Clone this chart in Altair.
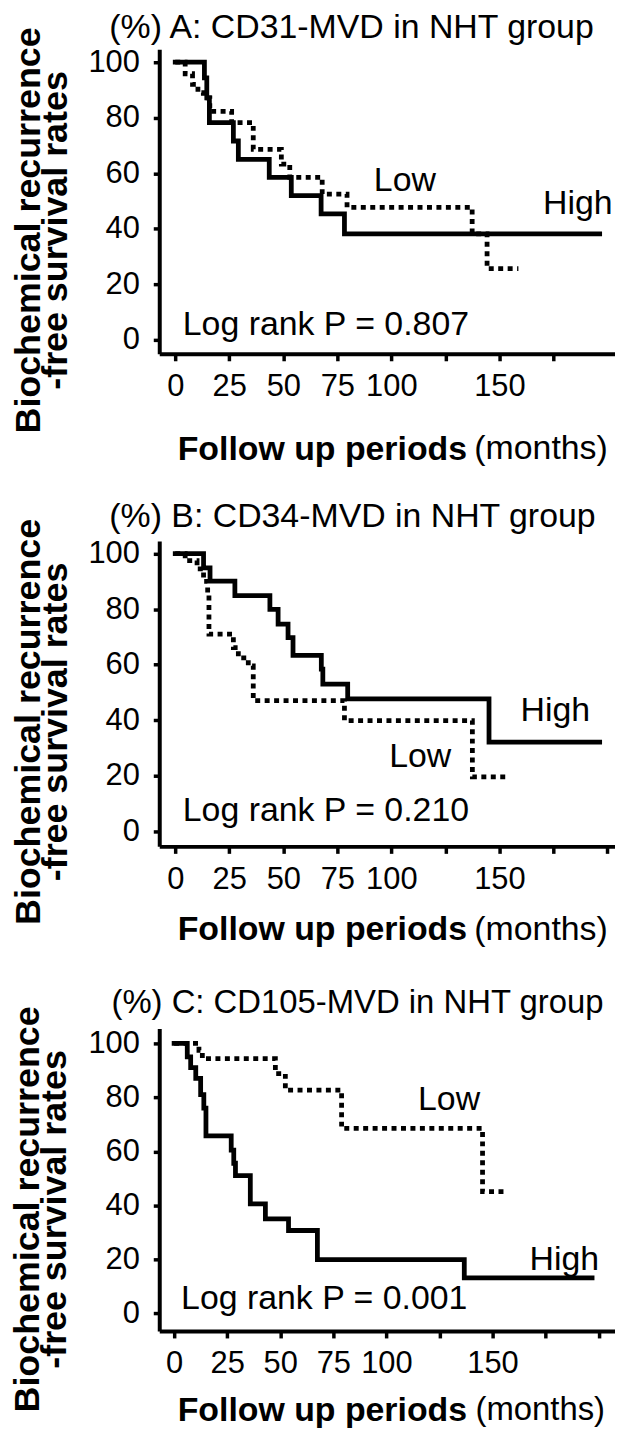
import altair as alt
import pandas as pd

FONT = "Liberation Sans"

# ---------------- data (months, % survival) ----------------
A_high_t = [0, 13.5, 14.6, 15.8, 26.9, 29.2, 43.5, 53.7, 67.5, 78.3, 196.4]
A_high_s = [100, 94.3, 87.1, 78.2, 71.6, 65.0, 58.5, 51.9, 45.4, 38.2, 38.2]
A_low_t = [0, 4.6, 8.0, 10.5, 13.0, 16.0, 26.1, 36.1, 49.1, 53.0, 68.0, 79.5, 137.4, 144.3, 158.8]
A_low_s = [100, 95.8, 92.0, 89.0, 87.1, 82.3, 78.2, 68.6, 63.3, 58.5, 52.5, 47.7, 38.2, 25.7, 25.7]

B_high_t = [0, 13.1, 16.1, 27.6, 43.8, 47.6, 52.2, 54.5, 67.6, 68.3, 79.8, 145.2, 196.4]
B_high_s = [100, 94.9, 90.1, 84.9, 79.9, 74.6, 69.8, 63.4, 58.4, 53.0, 47.7, 32.1, 32.1]
B_low_t = [0, 4.6, 10.1, 13.1, 15.0, 15.6, 26.9, 29.2, 33.8, 36.1, 78.3, 137.5, 154.4]
B_low_s = [100, 97.5, 94.5, 90.0, 86.0, 71.0, 66.2, 62.5, 59.6, 47.1, 39.9, 19.6, 19.6]

C_high_t = [0, 6.2, 7.8, 10.2, 12.5, 14.0, 15.0, 26.9, 28.1, 28.9, 35.9, 43.0, 53.9, 67.5, 136.7, 196.9]
C_high_s = [100, 95.0, 91.0, 87.0, 81.0, 76.0, 65.7, 60.5, 55.6, 51.0, 40.6, 35.0, 30.7, 19.9, 13.2, 13.2]
C_low_t = [0, 11.7, 13.3, 47.7, 52.4, 78.9, 145.3, 156.9]
C_low_s = [100, 97.4, 94.3, 88.8, 82.7, 68.5, 45.1, 45.1]

titles = ["(%) A: CD31-MVD in NHT group",
          "(%) B: CD34-MVD in NHT group",
          "(%) C: CD105-MVD in NHT group"]
pvals = ["Log rank P = 0.807", "Log rank P = 0.210", "Log rank P = 0.001"]
y_title = ["Biochemical recurrence", "-free survival rates"]
x_title_bold = "Follow up periods"
x_title_unit = "(months)"

# annotation texts and their anchor positions (months, %)
A_notes = [("Low", 91.9, 53.7), ("High", 170.2, 45.5), (pvals[0], 3.5, 1.8)]
B_notes = [("High", 159.8, 39.8), ("Low", 99.0, 23.3), (pvals[1], 3.5, 3.9)]
C_notes = [("Low", 114.9, 75.3), ("High", 167.4, 16.2), (pvals[2], 3.3, 1.5)]
A_head = [(titles[0], -30.5, 108.8), (x_title_unit, 138.4, -42.9)]
B_head = [(titles[1], -30.5, 109.7), (x_title_unit, 138.4, -39.1)]
C_head = [(titles[2], -29.5, 111.1), (x_title_unit, 142.0, -39.5)]
A_ytitle = [(y_title[0], -62.6, 39.4), (y_title[1], -50.0, 39.4)]
B_ytitle = [(y_title[0], -62.6, 39.4), (y_title[1], -50.0, 39.4)]
C_ytitle = [(y_title[0], -63.7, 38.5), (y_title[1], -50.9, 38.5)]

x_ticks_A = [0, 25, 50, 75, 100, 125, 150, 175]
x_ticks_BC = [0, 25, 50, 75, 100, 125, 150, 175, 200]
x_labeled = [0, 25, 50, 75, 100, 150]
y_ticks_AB = [0, 20, 40, 60, 80, 100]
y_ticks_C = [0, 10, 20, 30, 40, 50, 60, 70, 80, 90, 100]
y_labeled = [0, 20, 40, 60, 80, 100]

W = 458


def panel(ht, hs, lt, ls, notes, head, ytl, xdom, ydom, xticks, yticks, h,
          xtitle_y, head_size):
    xexpr = "indexof(%s, datum.value) >= 0 ? datum.label : ''" % str(x_labeled)
    yexpr = "indexof(%s, datum.value) >= 0 ? datum.label : ''" % str(y_labeled)
    xs = alt.Scale(domain=xdom, nice=False, zero=False)
    ys = alt.Scale(domain=ydom, nice=False, zero=False)
    xaxis = alt.Axis(values=xticks, labelExpr=xexpr, grid=False,
                     domainWidth=4, domainColor="black", tickColor="black",
                     tickWidth=3.5, tickSize=7, labelFontSize=31, labelFont=FONT,
                     labelColor="black", labelPadding=11, labelFlush=False,
                     labelOverlap=False,
                     title=x_title_bold, titleFont=FONT, titleFontSize=34,
                     titleFontWeight="bold", titleColor="black", titleAnchor="start",
                     titleAlign="left", titleBaseline="alphabetic", titleX=18,
                     titleY=xtitle_y)
    yaxis = alt.Axis(values=yticks, labelExpr=yexpr, grid=False, title=None,
                     domainWidth=4, domainColor="black", tickColor="black",
                     tickWidth=3.5, tickSize=6, labelFontSize=31, labelFont=FONT,
                     labelColor="black", labelPadding=14, labelFlush=False,
                     labelOverlap=False)
    hi = pd.DataFrame({"t": ht, "s": hs})
    lo = pd.DataFrame({"t": lt, "s": ls})
    nt = pd.DataFrame(notes, columns=["text", "t", "s"])
    hd = pd.DataFrame(head, columns=["text", "t", "s"])
    yt = pd.DataFrame(ytl, columns=["text", "t", "s"])
    X = alt.X("t:Q", scale=xs)
    Y = alt.Y("s:Q", scale=ys)
    base_hi = alt.Chart(hi).mark_line(interpolate="step-after", color="black",
                                      strokeWidth=4.8, strokeCap="square",
                                      strokeJoin="miter", clip=False).encode(
        x=alt.X("t:Q", scale=xs, axis=xaxis),
        y=alt.Y("s:Q", scale=ys, axis=yaxis))
    base_lo = alt.Chart(lo).mark_line(interpolate="step-after", color="black",
                                      strokeWidth=4.8, strokeDash=[5, 4.5],
                                      strokeCap="butt", clip=False).encode(x=X, y=Y)
    txt = alt.Chart(nt).mark_text(align="left", baseline="alphabetic", fontSize=34,
                                  font=FONT, color="black", clip=False).encode(
        x=X, y=Y, text="text:N")
    hdr = alt.Chart(hd).mark_text(align="left", baseline="alphabetic",
                                  fontSize=head_size,
                                  font=FONT, color="black", clip=False).encode(
        x=X, y=Y, text="text:N")
    ytx = alt.Chart(yt).mark_text(align="center", baseline="alphabetic", fontSize=36,
                                  fontWeight="bold", angle=270,
                                  font=FONT, color="black", clip=False).encode(
        x=X, y=Y, text="text:N")
    return alt.layer(base_lo, base_hi, txt, hdr, ytx).properties(width=W, height=h)


pA = panel(A_high_t, A_high_s, A_low_t, A_low_s, A_notes, A_head, A_ytitle,
           [-7.4, 203.5], [-5.0, 104.6], x_ticks_A, y_ticks_AB, 306, 106, 34)
pB = panel(B_high_t, B_high_s, B_low_t, B_low_s, B_notes, B_head, B_ytitle,
           [-7.4, 203.5], [-5.4, 104.6], x_ticks_BC, y_ticks_AB, 307, 94, 34)
pC = panel(C_high_t, C_high_s, C_low_t, C_low_s, C_notes, C_head, C_ytitle,
           [-7.0, 207.7], [-6.5, 105.5], x_ticks_BC, y_ticks_C, 304, 90, 33)

top_pair = alt.vconcat(pA, pB, spacing=33)
chart = alt.vconcat(top_pair, pC, spacing=39).properties(
    padding={"left": 2, "top": -1, "right": 0, "bottom": 0}
).configure_view(stroke=None)

chart.save("out.html", embed_options={"renderer": "svg", "actions": False})
